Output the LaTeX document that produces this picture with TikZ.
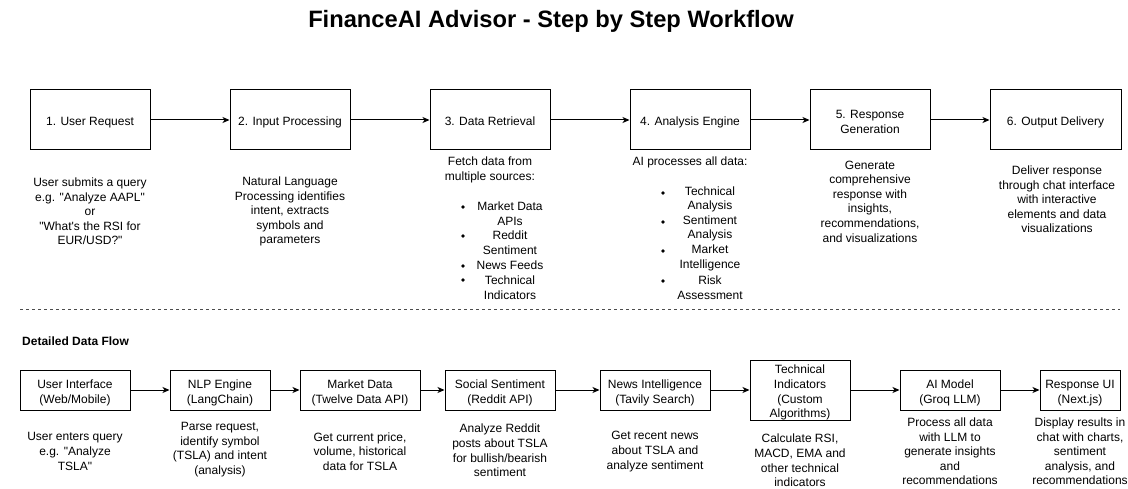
\documentclass[tikz,border=0pt]{standalone}
\usepackage{fontspec}
\newfontfamily\af{Liberation Sans}
\usetikzlibrary{arrows.meta}
\begin{document}
\begin{tikzpicture}[x=1pt,y=-1pt,
  stepbox/.style={draw,line width=1pt,inner sep=0pt,align=center,font=\af\fontsize{12}{14.6}\selectfont},
  one/.style={text height=12pt,text depth=0.5pt},
  two/.style={text height=27pt,text depth=0.9pt},
  four/.style={text height=56pt,text depth=0.7pt},
  txt/.style={align=center,inner sep=0pt,font=\af\fontsize{12}{14.6}\selectfont},
  bul/.style={circle,fill=black,inner sep=0pt,minimum size=3.6pt},
  flow/.style={-{Stealth[length=7pt,width=6pt,inset=2pt]},line width=1pt}]
\useasboundingbox[fill=white] (0,0) rectangle (1128,489);

% title
\node[inner sep=0pt,font=\af\bfseries\fontsize{23.7}{28}\selectfont] (title) at (551,21) {FinanceAI Advisor - Step by Step Workflow};

% top boxes
\node[stepbox,one,minimum width=120pt,minimum height=60pt] (s1) at (90,120) {1. User Request};
\node[stepbox,one,minimum width=120pt,minimum height=60pt] (s2) at (290,120) {2. Input Processing};
\node[stepbox,one,minimum width=120pt,minimum height=60pt] (s3) at (490,120) {3. Data Retrieval};
\node[stepbox,one,minimum width=120pt,minimum height=60pt] (s4) at (690,120) {4. Analysis Engine};
\node[stepbox,two,minimum width=120pt,minimum height=60pt] (s5) at (870,120) {5. Response\\Generation};
\node[stepbox,one,minimum width=131pt,minimum height=60pt] (s6) at (1055.5,120) {6. Output Delivery};

\draw[flow] (s1) -- (s2);
\draw[flow] (s2) -- (s3);
\draw[flow] (s3) -- (s4);
\draw[flow] (s4) -- (s5);
\draw[flow] (s5) -- (s6);

% top descriptions
\node[txt] (d1) at (90,211.5) {User submits a query\\e.g. "Analyze AAPL"\\or\\"What's the RSI for\\EUR/USD?"};
\node[txt] (d2) at (290,211.5) {Natural Language\\Processing identifies\\intent, extracts\\symbols and\\parameters};
\node[txt] (d3) at (490,170) {Fetch data from\\multiple sources:};
\node[bul] (d3b1) at (463,207) {};
\node[txt] (d3i1) at (510,214) {Market Data\\APIs};
\node[bul] (d3b2) at (463,236) {};
\node[txt] (d3i2) at (510,243) {Reddit\\Sentiment};
\node[bul] (d3b3) at (463,266) {};
\node[txt] (d3i3) at (510,265.5) {News Feeds};
\node[bul] (d3b4) at (463,280) {};
\node[txt] (d3i4) at (510,287.5) {Technical\\Indicators};

\node[txt] (d4) at (690,162.5) {AI processes all data:};
\node[bul] (d4b1) at (663,193) {};
\node[txt] (d4i1) at (710,199.5) {Technical\\Analysis};
\node[bul] (d4b2) at (663,222) {};
\node[txt] (d4i2) at (710,228.5) {Sentiment\\Analysis};
\node[bul] (d4b3) at (663,251) {};
\node[txt] (d4i3) at (710,258) {Market\\Intelligence};
\node[bul] (d4b4) at (663,281) {};
\node[txt] (d4i4) at (710,288) {Risk\\Assessment};

\node[txt] (d5) at (870,201.5) {Generate\\comprehensive\\response with\\insights,\\recommendations,\\and visualizations};
\node[txt] (d6) at (1057,199.5) {Deliver response\\through chat interface\\with interactive\\elements and data\\visualizations};

% separator
\coordinate (sepL) at (20,310);
\coordinate (sepR) at (1120,310);
\draw[line width=1pt,dash pattern=on 3pt off 3pt,black!70] (sepL) -- (sepR);

\node[anchor=west,inner sep=0pt,font=\af\bfseries\fontsize{12}{14.6}\selectfont] (dflow) at (22,341) {Detailed Data Flow};

% bottom boxes
\node[stepbox,two,minimum width=110pt,minimum height=40pt] (u1) at (75,390) {User Interface\\(Web/Mobile)};
\node[stepbox,two,minimum width=100pt,minimum height=40pt] (u2) at (220,390) {NLP Engine\\(LangChain)};
\node[stepbox,two,minimum width=120pt,minimum height=40pt] (u3) at (360,390) {Market Data\\(Twelve Data API)};
\node[stepbox,two,minimum width=110pt,minimum height=40pt] (u4) at (500,390) {Social Sentiment\\(Reddit API)};
\node[stepbox,two,minimum width=110pt,minimum height=40pt] (u5) at (655,390) {News Intelligence\\(Tavily Search)};
\node[stepbox,four,minimum width=100pt,minimum height=60pt] (u6) at (800,390) {Technical\\Indicators\\(Custom\\Algorithms)};
\node[stepbox,two,minimum width=100pt,minimum height=40pt] (u7) at (950,390) {AI Model\\(Groq LLM)};
\node[stepbox,two,minimum width=80pt,minimum height=40pt] (u8) at (1080,390) {Response UI\\(Next.js)};

\draw[flow] (u1) -- (u2);
\draw[flow] (u2) -- (u3);
\draw[flow] (u3) -- (u4);
\draw[flow] (u4) -- (u5);
\draw[flow] (u5) -- (u6);
\draw[flow] (u6) -- (u7);
\draw[flow] (u7) -- (u8);

% bottom descriptions
\node[txt] (e1) at (75,451.5) {User enters query\\e.g. "Analyze\\TSLA"};
\node[txt] (e2) at (220,449.5) {Parse request,\\identify symbol\\(TSLA) and intent\\(analysis)};
\node[txt] (e3) at (360,451.5) {Get current price,\\volume, historical\\data for TSLA};
\node[txt] (e4) at (500,450.5) {Analyze Reddit\\posts about TSLA\\for bullish/bearish\\sentiment};
\node[txt] (e5) at (655,451.5) {Get recent news\\about TSLA and\\analyze sentiment};
\node[txt] (e6) at (800,460.5) {Calculate RSI,\\MACD, EMA and\\other technical\\indicators};
\node[txt] (e7) at (950,451.5) {Process all data\\with LLM to\\generate insights\\and\\recommendations};
\node[txt] (e8) at (1080,451.5) {Display results in\\chat with charts,\\sentiment\\analysis, and\\recommendations};
\end{tikzpicture}
\end{document}
